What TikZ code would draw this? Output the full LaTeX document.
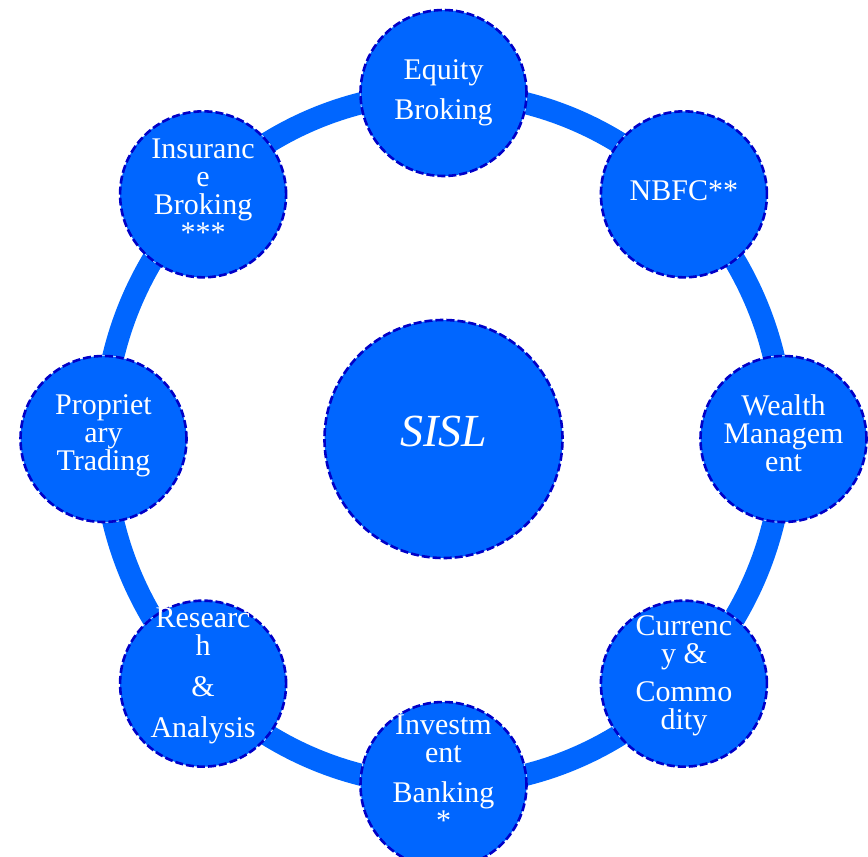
\documentclass[tikz,border=0pt]{standalone}
\usepackage{fontspec}
\setmainfont{Liberation Serif}
\definecolor{unitfill}{HTML}{0066FF}
\definecolor{unitrim}{HTML}{0000C8}
\begin{document}
\begin{tikzpicture}[x=1pt,y=1pt,
  unit/.style={circle,fill=unitfill,draw=unitrim,line width=2.6pt,dash pattern=on 8pt off 3pt,
    preaction={draw=white,solid,line width=1.4pt},minimum size=166pt,inner sep=0pt},
  unittext/.style={text=white,align=center,font=\fontsize{30}{28}\selectfont,inner sep=0pt},
  ring/.style={draw=unitfill,line width=22pt}]
\useasboundingbox (0,0) rectangle (868,-857);
\def\rx{340}
\def\ry{346}
\draw[ring] (443.5,-439) ellipse [x radius=\rx, y radius=\ry];
\node[unit,minimum size=238pt] (sisl) at (443.5,-439) {};
\node[unittext,font=\fontsize{46}{50}\selectfont\itshape] (sisl-text) at ([yshift=8]sisl) {SISL};
\foreach \a/\n/\s/\t in {90/equity/0/{Equity\\[12pt]Broking},
  45/nbfc/4/{NBFC**},
  0/wealth/6/{Wealth\\Managem\\ent},
  -45/currency/8/{Currenc\\y \&\\[10pt]Commo\\dity},
  -90/invest/12/{Investm\\ent\\[12pt]Banking\\*},
  -135/research/8/{Researc\\h\\[13pt]\&\\[13pt]Analysis},
  180/prop/3/{Propriet\\ary\\Trading},
  135/insure/4/{Insuranc\\e\\Broking\\***}}{
  \node[unit] (\n) at ([shift={(\a:\rx pt and \ry pt)}]sisl) {};
  \node[unittext] (\n-text) at ([yshift=\s]\n) {\t};
}
\end{tikzpicture}
\end{document}
